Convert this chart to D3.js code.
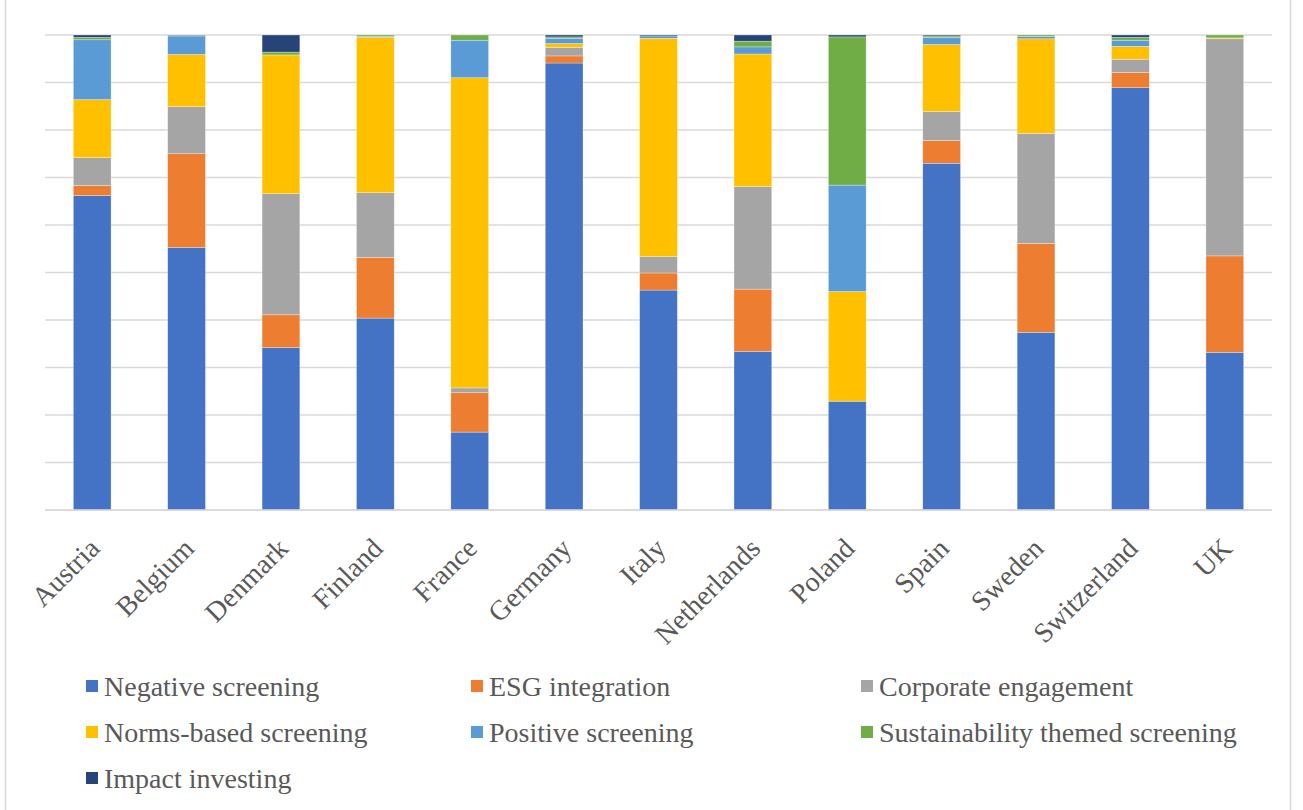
<!DOCTYPE html>
<html>
<head>
<meta charset="utf-8">
<script src="https://cdn.jsdelivr.net/npm/d3@7"></script>
<style>
  html, body { margin: 0; padding: 0; background: #fff; }
  svg { display: block; }
</style>
</head>
<body>
<svg id="chart" width="1303" height="810"></svg>
<script>
// Countries along the x axis
const countries = ["Austria", "Belgium", "Denmark", "Finland", "France", "Germany", "Italy",
  "Netherlands", "Poland", "Spain", "Sweden", "Switzerland", "UK"];

// Strategy names (stacking order, bottom to top) and their colours
const strategies = ["Negative screening", "ESG integration", "Corporate engagement",
  "Norms-based screening", "Positive screening", "Sustainability themed screening", "Impact investing"];
const colors = ["#4472C4", "#ED7D31", "#A5A5A5", "#FFC000", "#5B9BD5", "#70AD47", "#264478"];

// Share of each strategy per country (%), one array per strategy, in country order
const negativeScreening   = [66.2, 55.3, 34.2, 40.4, 16.4, 94.1, 46.3, 33.4, 22.9, 73.0, 37.4, 88.9, 33.2];
const esgIntegration      = [ 2.1, 19.7,  6.9, 12.8,  8.3,  1.5,  3.6, 13.1,  0.0,  4.8, 18.7,  3.2, 20.3];
const corporateEngagement = [ 5.9,  9.9, 25.5, 13.6,  1.0,  1.8,  3.5, 21.6,  0.0,  6.1, 23.2,  2.8, 45.7];
const normsBased          = [12.2, 11.0, 29.2, 32.7, 65.3,  0.8, 45.9, 27.9, 23.1, 14.1, 19.9,  2.7,  0.2];
const positiveScreening   = [12.6,  3.9,  0.0,  0.2,  7.9,  1.1,  0.5,  1.5, 22.4,  1.5,  0.5,  1.3,  0.0];
const sustainabilityTheme = [ 0.5,  0.1,  0.6,  0.3,  1.1,  0.3,  0.0,  1.2, 31.2,  0.3,  0.3,  0.6,  0.6];
const impactInvesting     = [ 0.5,  0.1,  3.6,  0.0,  0.0,  0.4,  0.2,  1.3,  0.4,  0.2,  0.0,  0.5,  0.0];

const seriesValues = [negativeScreening, esgIntegration, corporateEngagement, normsBased,
  positiveScreening, sustainabilityTheme, impactInvesting];

// Gridline values (fractions of the total)
const gridTicks = [0, 0.1, 0.2, 0.3, 0.4, 0.5, 0.6, 0.7, 0.8, 0.9, 1.0];

const FONT = "'Liberation Serif', 'Times New Roman', Times, 'DejaVu Serif', serif";

// Build row objects for d3.stack
const rows = countries.map((c, i) => {
  const r = { country: c };
  strategies.forEach((s, j) => { r[s] = seriesValues[j][i]; });
  return r;
});

const svg = d3.select("#chart");
const W = 1303, H = 810;

// Outer chart frame
svg.append("rect")
  .attr("x", 5.5).attr("y", -2).attr("width", 1285).attr("height", H + 4)
  .attr("fill", "none").attr("stroke", "#d9d9d9").attr("stroke-width", 1.5);

const plot = { left: 45, right: 1272, top: 35, bottom: 510 };

const x = d3.scaleBand().domain(countries).range([plot.left, plot.right]).paddingInner(0.6).paddingOuter(0.3);
const y = d3.scaleLinear().domain([0, 1]).range([plot.bottom, plot.top]);

// Horizontal gridlines
svg.append("g").selectAll("line").data(gridTicks).join("line")
  .attr("x1", plot.left).attr("x2", plot.right)
  .attr("y1", d => y(d)).attr("y2", d => y(d))
  .attr("stroke", "#d9d9d9").attr("stroke-width", 1.5);

// Stack as 100% shares
const stack = d3.stack().keys(strategies).offset(d3.stackOffsetExpand);
const layers = stack(rows);

svg.append("g").selectAll("g").data(layers).join("g")
  .attr("fill", (d, i) => colors[i])
  .selectAll("rect").data(d => d).join("rect")
  .attr("x", d => x(d.data.country))
  .attr("width", x.bandwidth())
  .attr("y", d => y(d[1]))
  .attr("height", d => Math.max(0, y(d[0]) - y(d[1])))
  .attr("stroke", "#ffffff").attr("stroke-width", 0.6).attr("stroke-opacity", 0.5);

// Category axis line
svg.append("line")
  .attr("x1", plot.left).attr("x2", plot.right)
  .attr("y1", plot.bottom).attr("y2", plot.bottom)
  .attr("stroke", "#d9d9d9").attr("stroke-width", 1.5);

// Rotated country labels
const xAxis = d3.axisBottom(x).tickSize(0).tickPadding(0);
const gx = svg.append("g").attr("transform", `translate(0,${plot.bottom})`).call(xAxis);
gx.attr("font-family", null).attr("font-size", null);
gx.select(".domain").remove();
gx.selectAll(".tick text")
  .style("font-family", FONT)
  .style("font-size", "28px")
  .style("fill", "#595959")
  .attr("text-anchor", "end")
  .attr("dy", 0)
  .attr("y", 0)
  .attr("transform", "translate(9,40) rotate(-45)");

// Legend: three columns, rows filled left to right
const legendCols = [86, 471, 861];
const legendRows = [686, 732, 778];
const legend = svg.append("g").selectAll("g").data(strategies).join("g")
  .attr("transform", (d, i) => `translate(${legendCols[i % 3]},${legendRows[Math.floor(i / 3)]})`);
legend.append("rect")
  .attr("x", 0).attr("y", -6).attr("width", 12).attr("height", 12)
  .attr("fill", (d, i) => colors[i]);
legend.append("text")
  .attr("x", 18).attr("y", 9.5)
  .style("font-family", FONT)
  .style("font-size", "28px")
  .style("fill", "#595959")
  .text(d => d);
</script>
</body>
</html>
